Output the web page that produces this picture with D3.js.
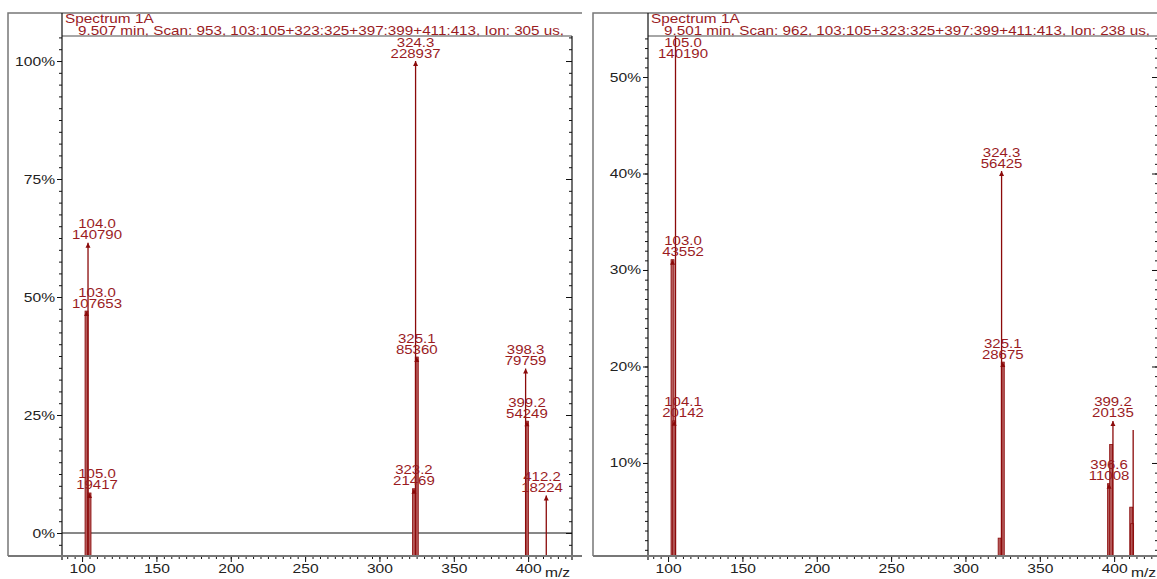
<!DOCTYPE html>
<html>
<head>
<meta charset="utf-8">
<script src="https://cdn.jsdelivr.net/npm/d3@7"></script>
<style>
  body { margin: 0; background: #fff; }
  text { font-family: "Liberation Sans", Arial, sans-serif; }
</style>
</head>
<body>
<svg id="chart" width="1157" height="579"></svg>
<script>
// Spectrum 1A, scan 953 (left)
const mzA = [103.0, 104.0, 105.0, 323.2, 324.3, 325.1, 398.3, 399.2, 412.2];
const intA = [107653, 140790, 19417, 21469, 228937, 85360, 79759, 54249, 18224];
const labA = [true, true, true, true, true, true, true, true, true];

// Spectrum 1A, scan 962 (right)
const mzB = [103.0, 104.1, 105.0, 323.0, 324.3, 325.1, 396.6, 398.0, 399.2, 411.5, 412.1, 412.8];
const intB = [43552, 20142, 140190, 3100, 56425, 28675, 11008, 16700, 20135, 7600, 5200, 18800];
const labB = [true, true, true, false, true, true, true, false, true, false, false, false];

// ion windows of the scan
const windows = [[103, 105], [323, 325], [397, 399], [411, 413]];

const xTicks = [100, 150, 200, 250, 300, 350, 400];
const yTicksA = [0, 25, 50, 75, 100];
const yTicksB = [10, 20, 30, 40, 50];

const headerA = ["Spectrum 1A", "9.507 min, Scan: 953, 103:105+323:325+397:399+411:413, Ion: 305 us,"];
const headerB = ["Spectrum 1A", "9.501 min, Scan: 962, 103:105+323:325+397:399+411:413, Ion: 238 us,"];

const SX = 1.25;          // text in the picture is stretched sideways
const FS = 12;
const RED = "#8b0a0a";
const TXT = "#9a1c1f";
const GREY = "#777";
const TOP = 36, BOTTOM = 556, HEAD = 13;

let svg = d3.select("#chart");

function sText(g, x, y, str, anchor, color, size, sx) {
    return g.append("text")
        .attr("transform", `translate(${x},${y}) scale(${sx || SX},1)`)
        .attr("text-anchor", anchor || "start")
        .attr("font-size", (size || FS) + "px")
        .attr("fill", color || "#222")
        .text(str);
}

function drawPanel(p) {
    let g = svg.append("g");
    let x = d3.scaleLinear().domain([86.5, 429.5]).range([p.L, p.R]);
    let y = d3.scaleLinear().domain(p.yDom).range(p.yRange);

    // outer frame (top, left, bottom)
    g.append("path")
        .attr("d", `M${p.F},${BOTTOM} V${HEAD} H${p.R + 10}`)
        .attr("fill", "none").attr("stroke", GREY).attr("stroke-width", 1.5);

    // header
    sText(g, p.L + 3, 22.5, p.head[0], "start", TXT, 12, 1.28);
    sText(g, p.L + 16, 35, p.head[1], "start", TXT, 12, 1.27);
    g.append("line")
        .attr("x1", p.L).attr("x2", p.R).attr("y1", TOP).attr("y2", TOP)
        .attr("stroke", "#888").attr("stroke-width", 1.5);

    // zero line
    if (p.zero) {
        g.append("line")
            .attr("x1", p.L).attr("x2", p.R).attr("y1", y(0)).attr("y2", y(0))
            .attr("stroke", "#111").attr("stroke-width", 1);
    }

    // peaks
    let maxI = d3.max(p.inten);
    let peaks = p.mz.map((m, i) => ({ mz: m, inten: p.inten[i], pct: p.inten[i] / maxI * 100, label: p.lab[i] }));
    peaks.forEach(d => d.win = windows.findIndex(w => d.mz >= w[0] - 1 && d.mz <= w[1] + 1));
    peaks.forEach(d => {
        d.thin = d.inten === d3.max(peaks.filter(e => e.win === d.win), e => e.inten);
    });

    let clipId = "clip" + p.id;
    svg.append("clipPath").attr("id", clipId).append("rect")
        .attr("x", p.L).attr("y", TOP).attr("width", p.R - p.L).attr("height", BOTTOM - TOP);

    let pk = g.append("g").attr("clip-path", `url(#${clipId})`);
    pk.selectAll("rect.broad")
        .data(peaks.filter(d => !d.thin))
        .join("rect")
        .attr("class", "broad")
        .attr("x", d => x(d.mz) - 1.5)
        .attr("width", 3)
        .attr("y", d => y(d.pct))
        .attr("height", d => y(p.yDom[0]) - y(d.pct) + 20)
        .attr("fill", "#b45a5a")
        .attr("stroke", RED)
        .attr("stroke-width", 0.8);
    pk.selectAll("line.thin")
        .data(peaks.filter(d => d.thin))
        .join("line")
        .attr("class", "thin")
        .attr("x1", d => x(d.mz)).attr("x2", d => x(d.mz))
        .attr("y1", d => y(d.pct)).attr("y2", BOTTOM + 5)
        .attr("stroke", RED).attr("stroke-width", 1.3);

    // arrows and labels
    peaks.filter(d => d.label).forEach(d => {
        let px = x(d.mz);
        let tip = y(d.pct);
        let clipped = tip < TOP + 25;
        if (!clipped) {
            g.append("path")
                .attr("d", `M${px - 2.5},${tip + 5} L${px},${tip} L${px + 2.5},${tip + 5} Z`)
                .attr("fill", RED);
        }
        let ty = Math.max(tip, TOP + 25);
        let cx = Math.min(Math.max(px, p.L + 35), p.R - 30);
        sText(g, cx, ty - 14.5, d.mz.toFixed(1), "middle", TXT);
        sText(g, cx, ty - 3.5, String(d.inten), "middle", TXT);
    });

    // y axis (left, with labels)
    let yMinor = d3.range(Math.ceil(p.yDom[0] / p.minor) * p.minor, p.yDom[1], p.minor);
    let ax = g.append("g").attr("transform", `translate(${p.L},0)`);
    ax.call(d3.axisLeft(y).tickValues(yMinor).tickSize(3).tickFormat(""));
    ax.append("g").call(d3.axisLeft(y).tickValues(p.yTicks).tickSize(5).tickFormat(d => d + "%"));
    ax.selectAll(".domain").remove();
    ax.selectAll("line").attr("stroke", "#111");
    ax.selectAll("text")
        .attr("font-size", "12.5px").attr("fill", "#222")
        .attr("x", -7 / SX)
        .attr("transform", `scale(${SX},1)`);
    g.append("line")
        .attr("x1", p.L).attr("x2", p.L).attr("y1", HEAD).attr("y2", BOTTOM + 4)
        .attr("stroke", "#111").attr("stroke-width", 1.2);

    // y axis (right, mirrored ticks)
    let ar = g.append("g").attr("transform", `translate(${p.R},0)`);
    ar.call(d3.axisRight(y).tickValues(yMinor).tickSize(-3).tickFormat(""));
    ar.append("g").call(d3.axisRight(y).tickValues(p.yTicks).tickSize(-6).tickFormat(""));
    ar.selectAll(".domain").remove();
    ar.selectAll("line").attr("stroke", "#111");
    g.append("line")
        .attr("x1", p.R).attr("x2", p.R).attr("y1", TOP).attr("y2", BOTTOM + 4)
        .attr("stroke", "#111").attr("stroke-width", 1.2);

    // x axis
    let xMinor = d3.range(90, 430, 5);
    let bx = g.append("g").attr("transform", `translate(0,${BOTTOM})`);
    bx.call(d3.axisBottom(x).tickValues(xMinor).tickSize(3).tickFormat(""));
    bx.append("g").call(d3.axisBottom(x).tickValues(xTicks).tickSize(6).tickFormat(d3.format("d")));
    bx.selectAll(".domain").remove();
    bx.selectAll("line").attr("stroke", "#111");
    bx.selectAll("text")
        .attr("font-size", "12.5px").attr("fill", "#222")
        .attr("y", 8).attr("dy", "0.71em")
        .attr("transform", `scale(${SX},1)`)
        .attr("x", 0);
    g.append("line")
        .attr("x1", p.F).attr("x2", p.R + 10).attr("y1", BOTTOM).attr("y2", BOTTOM)
        .attr("stroke", GREY).attr("stroke-width", 2);
    sText(g, p.R - 27, 577, "m/z", "start", "#222", 12.5);
}

drawPanel({ id: "A", F: 8, L: 62, R: 572, mz: mzA, inten: intA, lab: labA, head: headerA,
    yDom: [-4.87, 105.3], yRange: [BOTTOM, TOP], yTicks: yTicksA, minor: 2.5, zero: true });
drawPanel({ id: "B", F: 593, L: 648, R: 1158, mz: mzB, inten: intB, lab: labB, head: headerB,
    yDom: [0.36, 54.25], yRange: [BOTTOM, TOP], yTicks: yTicksB, minor: 1, zero: false });
</script>
</body>
</html>
